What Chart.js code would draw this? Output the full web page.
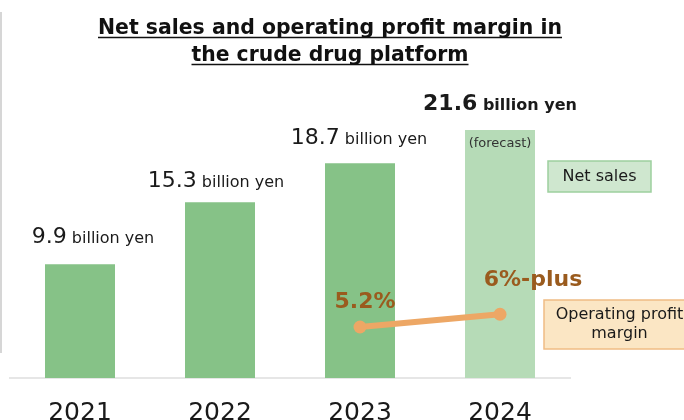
<!DOCTYPE html>
<html>
<head>
<meta charset="utf-8">
<script src="https://cdn.jsdelivr.net/npm/chart.js@4.4.1/dist/chart.umd.min.js"></script>
<style>
  html, body { margin: 0; padding: 0; background: #fff; }
  #wrap { width: 684px; height: 420px; }
</style>
</head>
<body>
<div id="wrap"><canvas id="salesChart" width="684" height="420"></canvas></div>
<script>
const years = ['2021', '2022', '2023', '2024'];
const netSales = [9.9, 15.3, 18.7, 21.6];            // billion yen
const forecastIndex = 3;                              // 2024 is a forecast
const marginValues = [null, null, 5.2, 6.0];         // operating profit margin, %
const marginLabels = [null, null, '5.2%', '6%-plus'];
const titleLines = ['Net sales and operating profit margin in', 'the crude drug platform'];

const GREEN = '#86C287';
const GREEN_LIGHT = '#B6DBB7';
const ORANGE = '#EDA765';
const BROWN = '#9A5B1E';
const FONT = '"DejaVu Sans", "Noto Sans", sans-serif';

function wrapText(ctx, text, maxWidth) {
    const words = text.split(' ');
    const lines = [];
    let line = '';
    words.forEach((word) => {
        const test = line ? line + ' ' + word : word;
        if (line && ctx.measureText(test).width > maxWidth) {
            lines.push(line);
            line = word;
        } else {
            line = test;
        }
    });
    lines.push(line);
    return lines;
}

function drawValueLabel(ctx, x, y, value, bold) {
    const weight = bold ? 'bold ' : '';
    const numFont = weight + '22px ' + FONT;
    const unitFont = weight + '16px ' + FONT;
    const num = value.toFixed(1);
    const unit = ' billion yen';
    ctx.font = numFont;
    const nw = ctx.measureText(num).width;
    ctx.font = unitFont;
    const uw = ctx.measureText(unit).width;
    const left = x - (nw + uw) / 2;
    ctx.textAlign = 'left';
    ctx.textBaseline = 'alphabetic';
    ctx.fillStyle = '#1a1a1a';
    ctx.font = numFont;
    ctx.fillText(num, left, y);
    ctx.font = unitFont;
    ctx.fillText(unit, left + nw, y);
}

function drawLegendBox(ctx, box, text, fill, stroke) {
    ctx.save();
    ctx.fillStyle = fill;
    ctx.strokeStyle = stroke;
    ctx.lineWidth = 1.5;
    ctx.fillRect(box.x, box.y, box.w, box.h);
    ctx.strokeRect(box.x, box.y, box.w, box.h);
    ctx.font = '16px ' + FONT;
    ctx.fillStyle = '#1a1a1a';
    ctx.textAlign = 'center';
    ctx.textBaseline = 'middle';
    const lines = wrapText(ctx, text, 135);
    const lh = 19;
    const cx = box.x + (box.textW || box.w) / 2;
    const startY = box.y + box.h / 2 - (lines.length - 1) * lh / 2;
    lines.forEach((l, i) => ctx.fillText(l, cx, startY + i * lh));
    ctx.restore();
}

const decorations = {
    id: 'decorations',
    beforeDraw(chart) {
        const ctx = chart.ctx;
        ctx.save();
        ctx.strokeStyle = '#c8c8c8';
        ctx.lineWidth = 1.5;
        ctx.beginPath();
        ctx.moveTo(1, 12);
        ctx.lineTo(1, 353);
        ctx.stroke();
        ctx.restore();
    },
    afterDatasetsDraw(chart) {
        const ctx = chart.ctx;
        ctx.save();

        // value labels above the bars (small per-bar nudges)
        const bars = chart.getDatasetMeta(1).data;
        const valueShift = [[13, -21], [-4, -15], [-1, -19], [0, -20]];
        bars.forEach((bar, i) => {
            drawValueLabel(ctx, bar.x + valueShift[i][0], bar.y + valueShift[i][1],
                netSales[i], i === forecastIndex);
        });

        // forecast note inside the top of the 2024 bar
        const fc = bars[forecastIndex];
        ctx.font = '13px ' + FONT;
        ctx.fillStyle = '#333';
        ctx.textAlign = 'center';
        ctx.textBaseline = 'middle';
        ctx.fillText('(forecast)', fc.x, fc.y + 14);

        // margin labels
        const pts = chart.getDatasetMeta(0).data;
        const labelShift = [[0, 0], [0, 0], [5, -19], [33, -28]];
        ctx.font = 'bold 22px ' + FONT;
        ctx.fillStyle = BROWN;
        ctx.textBaseline = 'alphabetic';
        pts.forEach((pt, i) => {
            if (!marginLabels[i]) return;
            ctx.fillText(marginLabels[i], pt.x + labelShift[i][0], pt.y + labelShift[i][1]);
        });

        // legend boxes
        drawLegendBox(ctx, { x: 548, y: 161, w: 103, h: 31 },
            chart.data.datasets[1].label, '#CFE7CF', '#9DD09E');
        drawLegendBox(ctx, { x: 544, y: 300, w: 150, h: 49, textW: 151 },
            chart.data.datasets[0].label, '#FBE6C4', '#F0BC84');

        // underlined title
        ctx.font = 'bold 22px ' + FONT;
        ctx.fillStyle = '#111';
        ctx.strokeStyle = '#111';
        ctx.lineWidth = 1.6;
        ctx.textAlign = 'center';
        const maxW = [464, 277];
        titleLines.forEach((line, i) => {
            const y = 34 + i * 27;
            const w = Math.min(ctx.measureText(line).width, maxW[i]);
            ctx.fillText(line, 330, y, maxW[i]);
            ctx.beginPath();
            ctx.moveTo(330 - w / 2, y + 3.5);
            ctx.lineTo(330 + w / 2, y + 3.5);
            ctx.stroke();
        });

        ctx.restore();
    }
};

const ctx = document.getElementById('salesChart').getContext('2d');
const salesChart = new Chart(ctx, {
    type: 'bar',
    data: {
        labels: years,
        datasets: [{
            type: 'line',
            label: 'Operating profit margin',
            data: marginValues,
            yAxisID: 'y2',
            borderColor: ORANGE,
            backgroundColor: ORANGE,
            borderWidth: 6,
            pointRadius: 6.5,
            pointBackgroundColor: ORANGE,
            pointBorderWidth: 0,
            order: 0
        }, {
            type: 'bar',
            label: 'Net sales',
            data: netSales,
            yAxisID: 'y',
            backgroundColor: netSales.map((v, i) => i === forecastIndex ? GREEN_LIGHT : GREEN),
            barPercentage: 0.5,
            categoryPercentage: 1.0,
            order: 1
        }]
    },
    options: {
        responsive: false,
        animation: false,
        devicePixelRatio: 1,
        layout: {
            padding: { left: 10, right: 114, top: 91, bottom: -28 }
        },
        plugins: {
            legend: { display: false },
            title: { display: false },
            tooltip: { enabled: false }
        },
        scales: {
            x: {
                grid: { display: false, drawTicks: false },
                border: { display: true, color: '#e6e6e6', width: 2 },
                ticks: {
                    color: '#1a1a1a',
                    padding: 20,
                    font: { family: FONT, size: 25, lineHeight: 1.2 }
                }
            },
            y: {
                display: false,
                min: 0,
                max: 25
            },
            y2: {
                display: false,
                min: 2,
                max: 20
            }
        }
    },
    plugins: [decorations]
});
</script>
</body>
</html>
